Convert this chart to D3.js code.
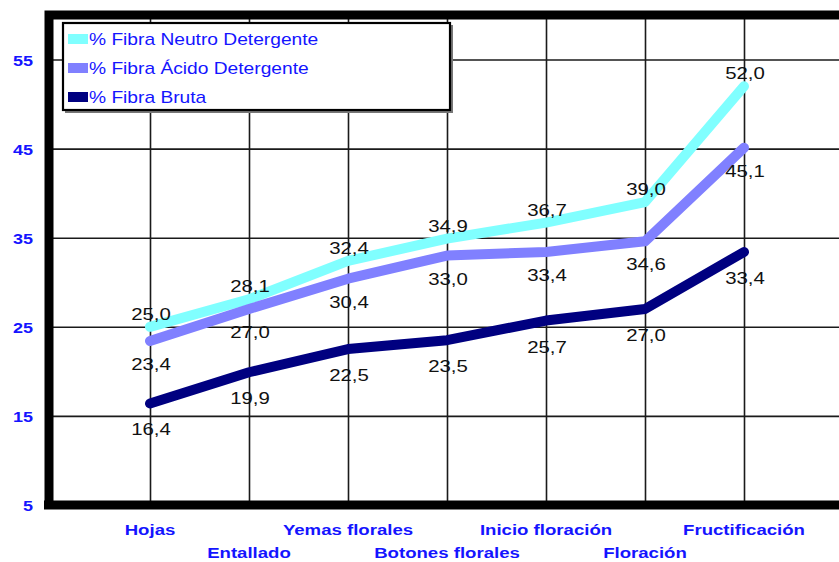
<!DOCTYPE html>
<html>
<head>
<meta charset="utf-8">
<script src="https://cdn.jsdelivr.net/npm/d3@7/dist/d3.min.js"></script>
<style>
  html, body { margin: 0; padding: 0; background: #fff; }
  svg { display: block; }
</style>
</head>
<body>
<svg id="chart" width="839" height="562"></svg>
<script>
// Growth stages (x categories)
const categories = ["Hojas", "Entallado", "Yemas florales", "Botones florales",
                    "Inicio floración", "Floración", "Fructificación"];
// Fibre content (%) per stage
const fndValues = [25.0, 28.1, 32.4, 34.9, 36.7, 39.0, 52.0];
const fadValues = [23.4, 27.0, 30.4, 33.0, 33.4, 34.6, 45.1];
const fbValues  = [16.4, 19.9, 22.5, 23.5, 25.7, 27.0, 33.4];
const seriesNames = ["% Fibra Neutro Detergente", "% Fibra Ácido Detergente", "% Fibra Bruta"];
const yTicks = [5, 15, 25, 35, 45, 55];

const series = [
  { name: seriesNames[0], values: fndValues, color: "#80ffff", labelDy: -7 },
  { name: seriesNames[1], values: fadValues, color: "#8080ff", labelDy: 29 },
  { name: seriesNames[2], values: fbValues,  color: "#000080", labelDy: 32 }
];

const svg = d3.select("#chart");
const plotLeft = 49, plotTop = 15, plotBottom = 505, plotRight = 843;
const textStretch = 1.2;   // wide lettering
const blue = "#1414ff";

const x = d3.scalePoint().domain(categories).range([51, plotRight]).padding(1);
const y = d3.scaleLinear().domain([5, 60]).range([plotBottom, plotTop]);

const fmt = v => d3.format(".1f")(v).replace(".", ",");

// horizontally stretched text helper
function label(g, tx, ty, str, opts) {
  return g.append("text")
    .attr("transform", `translate(${tx},${ty}) scale(${textStretch},1)`)
    .attr("text-anchor", opts.anchor || "middle")
    .attr("font-family", "'Liberation Sans', Arial, sans-serif")
    .attr("font-size", opts.size)
    .attr("font-weight", opts.weight || "normal")
    .attr("fill", opts.fill)
    .text(str);
}

// grid lines
const grid = svg.append("g");
grid.append("g")
  .attr("transform", `translate(${plotLeft},0)`)
  .call(d3.axisLeft(y).tickValues(yTicks).tickSize(-(900 - plotLeft)).tickFormat(""))
  .call(g => g.select(".domain").remove())
  .call(g => g.selectAll("line").attr("stroke", "#1a1a1a").attr("stroke-width", 1.6));
grid.append("g")
  .attr("transform", `translate(0,${plotBottom})`)
  .call(d3.axisBottom(x).tickSize(-(plotBottom - plotTop)).tickFormat(""))
  .call(g => g.select(".domain").remove())
  .call(g => g.selectAll("line").attr("stroke", "#1a1a1a").attr("stroke-width", 1.6));

// heavy frame
svg.append("path")
  .attr("d", `M${plotLeft},${plotTop} L900,${plotTop} M${plotLeft},${plotTop - 4.5} L${plotLeft},${plotBottom + 4.5} M${plotLeft - 5},${plotBottom} L900,${plotBottom}`)
  .attr("stroke", "#000").attr("stroke-width", 9).attr("fill", "none");

// lines
const line = d3.line().x((d, i) => x(categories[i])).y(d => y(d));
svg.append("g").selectAll("path").data(series).join("path")
  .attr("d", d => line(d.values))
  .attr("fill", "none")
  .attr("stroke", d => d.color)
  .attr("stroke-width", 10)
  .attr("stroke-linejoin", "round")
  .attr("stroke-linecap", "round");

// value labels
const labels = svg.append("g");
series.forEach(s => {
  s.values.forEach((v, i) => {
    label(labels, x(categories[i]) + 1, y(v) + s.labelDy, fmt(v),
      { size: 17, fill: "#111" });
  });
});

// y tick labels
const yl = svg.append("g");
yTicks.forEach(t => {
  label(yl, 33, y(t) + 6, t, { size: 15, weight: "bold", fill: blue, anchor: "end" });
});

// x category labels, alternating rows
const xl = svg.append("g");
categories.forEach((c, i) => {
  label(xl, x(c), i % 2 === 0 ? 535 : 558, c, { size: 15.5, weight: "bold", fill: blue });
});

// legend
const lg = svg.append("g");
lg.append("rect").attr("x", 65).attr("y", 25).attr("width", 388).attr("height", 88).attr("fill", "#777");
lg.append("rect").attr("x", 63).attr("y", 23).attr("width", 387).attr("height", 87)
  .attr("fill", "#fff").attr("stroke", "#000").attr("stroke-width", 2.2);
series.forEach((s, i) => {
  const cy = 39 + i * 29;
  lg.append("rect").attr("x", 68).attr("y", cy - 5).attr("width", 20).attr("height", 10).attr("fill", s.color);
  label(lg, 89, cy + 6, s.name, { size: 16, fill: blue, anchor: "start" });
});
</script>
</body>
</html>
